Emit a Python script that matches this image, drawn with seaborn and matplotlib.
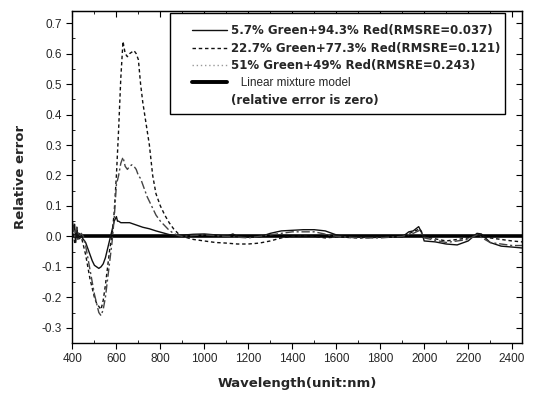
import numpy as np
import pandas as pd
import seaborn as sns
import matplotlib.pyplot as plt
from matplotlib.lines import Line2D
from matplotlib.patches import Rectangle
from matplotlib.ticker import MultipleLocator, FuncFormatter

# 5.7% Green + 94.3% Red (solid)
wl_a = [400, 405, 410, 415, 420, 425, 430, 440, 450, 460, 470, 480, 490, 500, 510, 520, 530, 540, 550, 560,
        570, 580, 590, 600, 605, 610, 620, 640, 660, 680, 700, 720, 750, 780, 810, 840, 870, 900, 950, 1000,
        1050, 1100, 1130, 1150, 1200, 1250, 1300, 1350, 1400, 1450, 1500, 1550, 1600, 1650, 1700, 1750, 1800,
        1850, 1900, 1930, 1950, 1975, 1990, 2000, 2050, 2100, 2150, 2200, 2240, 2260, 2300, 2350, 2400, 2445]
err_a = [0.05, 0.02, 0.04, -0.02, 0.03, -0.01, 0.01, 0.0, -0.01, -0.02, -0.04, -0.06, -0.08, -0.095, -0.1,
         -0.105, -0.1, -0.09, -0.07, -0.04, -0.01, 0.02, 0.05, 0.065, 0.05, 0.05, 0.045, 0.045, 0.045, 0.04,
         0.035, 0.03, 0.025, 0.018, 0.012, 0.006, 0.002, 0.004, 0.007, 0.008, 0.005, 0.0, 0.008, 0.0, -0.003,
         -0.002, 0.01, 0.018, 0.02, 0.022, 0.022, 0.018, 0.005, -0.003, -0.002, -0.003, -0.002, -0.003, -0.002,
         0.015, 0.018, 0.032, 0.01, -0.015, -0.018, -0.025, -0.028, -0.015, 0.01, 0.008, -0.02, -0.032, -0.035,
         -0.038]

# 22.7% Green + 77.3% Red (dashed)
wl_b = [400, 410, 420, 430, 440, 450, 460, 470, 480, 490, 500, 510, 520, 530, 540, 550, 560, 570, 580, 590,
        600, 610, 620, 630, 640, 650, 660, 670, 680, 690, 700, 710, 720, 735, 750, 765, 780, 800, 820, 840,
        860, 880, 900, 950, 1000, 1050, 1100, 1150, 1200, 1250, 1300, 1350, 1400, 1450, 1500, 1550, 1600,
        1700, 1800, 1900, 1950, 1980, 2000, 2050, 2100, 2150, 2200, 2240, 2300, 2350, 2400, 2445]
err_b = [0.03, -0.02, 0.02, -0.01, 0.0, -0.03, -0.06, -0.1, -0.14, -0.17, -0.2, -0.22, -0.23, -0.24, -0.21,
         -0.16, -0.1, -0.04, 0.0, 0.08, 0.2, 0.35, 0.52, 0.64, 0.6, 0.59, 0.6, 0.605, 0.61, 0.6, 0.58, 0.5,
         0.44, 0.37, 0.3, 0.2, 0.14, 0.1, 0.07, 0.045, 0.025, 0.01, 0.0, -0.01, -0.015, -0.02, -0.022, -0.025,
         -0.025, -0.022, -0.015, -0.005, 0.0, 0.002, 0.0, -0.005, -0.002, -0.005, -0.003, 0.0, 0.015, 0.025,
         0.0, -0.008, -0.015, -0.01, -0.005, 0.005, -0.005, -0.01, -0.015, -0.018]

# 51% Green + 49% Red (dash-dot)
wl_c = [400, 410, 420, 430, 440, 450, 460, 470, 480, 490, 500, 510, 520, 530, 540, 550, 560, 570, 580, 590,
        600, 610, 620, 630, 640, 650, 660, 670, 680, 690, 700, 710, 720, 740, 760, 780, 800, 820, 840, 860,
        880, 900, 950, 1000, 1100, 1200, 1300, 1400, 1500, 1600, 1700, 1800, 1900, 1950, 1980, 2000, 2100,
        2200, 2240, 2300, 2400, 2445]
err_c = [0.04, 0.0, 0.03, 0.0, 0.01, 0.0, -0.03, -0.07, -0.11, -0.15, -0.19, -0.22, -0.25, -0.26, -0.24,
         -0.2, -0.14, -0.08, -0.02, 0.06, 0.17, 0.2, 0.24, 0.26, 0.23, 0.22, 0.23, 0.235, 0.23, 0.22, 0.2,
         0.19, 0.17, 0.13, 0.1, 0.07, 0.05, 0.035, 0.02, 0.01, 0.003, 0.0, 0.003, 0.005, 0.0, -0.005, 0.005,
         0.015, 0.015, 0.0, -0.005, -0.005, 0.0, 0.01, 0.02, -0.005, -0.02, -0.01, 0.005, -0.02, -0.03, -0.03]

wl_lin = [400, 2445]
err_lin = [0.0, 0.0]

labels = ["5.7% Green+94.3% Red(RMSRE=0.037)",
          "22.7% Green+77.3% Red(RMSRE=0.121)",
          "51% Green+49% Red(RMSRE=0.243)",
          "   Linear mixture model",
          "(relative error is zero)"]

sns.set_style("ticks")
plt.rcParams["font.family"] = ["Liberation Sans", "DejaVu Sans"]
plt.rcParams["axes.unicode_minus"] = False

fig, ax = plt.subplots(figsize=(5.34, 3.94), dpi=100)
fig.subplots_adjust(left=72 / 534, right=522 / 534, top=1 - 11 / 394, bottom=1 - 343 / 394)

sns.lineplot(x=wl_lin, y=err_lin, ax=ax, color="black", lw=2.6)
sns.lineplot(x=wl_a, y=err_a, ax=ax, color="#111111", lw=1.0)
sns.lineplot(x=wl_b, y=err_b, ax=ax, color="#111111", lw=1.0, linestyle=(0, (2.5, 2)))
sns.lineplot(x=wl_c, y=err_c, ax=ax, color="#444444", lw=1.0, linestyle=(0, (6, 2, 1.5, 2)))

ax.set_xlim(398, 2445)
ax.set_ylim(-0.35, 0.74)
ax.xaxis.set_major_locator(MultipleLocator(200))
ax.xaxis.set_minor_locator(MultipleLocator(100))
ax.yaxis.set_major_locator(MultipleLocator(0.1))
ax.yaxis.set_minor_locator(MultipleLocator(0.05))
ax.yaxis.set_major_formatter(FuncFormatter(lambda v, p: f"{v:.1f}"))
ax.tick_params(which="major", direction="out", length=4, width=0.8, labelsize=8.5, color="black")
ax.tick_params(which="minor", direction="in", length=2, width=0.6, color="black")
for s in ax.spines.values():
    s.set_color("black")
    s.set_linewidth(1.0)

# inward ticks on the top and right frame
top = ax.secondary_xaxis("top")
top.xaxis.set_major_locator(MultipleLocator(200))
top.xaxis.set_minor_locator(MultipleLocator(100))
top.tick_params(which="both", direction="in", labeltop=False, color="black")
top.tick_params(which="major", length=4)
top.tick_params(which="minor", length=2)
right = ax.secondary_yaxis("right")
right.yaxis.set_major_locator(MultipleLocator(0.1))
right.yaxis.set_minor_locator(MultipleLocator(0.05))
right.tick_params(which="both", direction="in", labelright=False, color="black")
right.tick_params(which="major", length=4)
right.tick_params(which="minor", length=2)

ax.set_xlabel("Wavelength(unit:nm)", fontsize=9.5, fontweight="bold", family="DejaVu Sans", labelpad=8)
ax.set_ylabel("Relative error", fontsize=9.5, fontweight="bold", family="DejaVu Sans", labelpad=10)

# legend frame
ax.add_patch(Rectangle((170 / 534, 1 - 114 / 394), 335 / 534, 101 / 394, transform=fig.transFigure,
                       facecolor="white", edgecolor="black", lw=1.0, zorder=4))

handles = [Line2D([], [], color="#111111", lw=1.0),
           Line2D([], [], color="#111111", lw=1.0, linestyle=(0, (2.5, 2))),
           Line2D([], [], color="#999999", lw=1.0, linestyle=(0, (1, 2))),
           Line2D([], [], color="black", lw=2.8),
           Line2D([], [], color="none")]
leg = ax.legend(handles, labels, loc="upper left", bbox_to_anchor=(192 / 534, 1 - 24 / 394),
                bbox_transform=fig.transFigure, frameon=False, borderpad=0, borderaxespad=0,
                handlelength=3.0, handletextpad=0.3, labelspacing=0.4,
                prop={"family": "DejaVu Sans", "weight": "bold", "size": 8.5})
leg.set_zorder(5)
t4 = leg.get_texts()[3]
t4.set_fontweight("normal")
t4.set_family("Liberation Sans")

fig.savefig("out.png", dpi=100)
